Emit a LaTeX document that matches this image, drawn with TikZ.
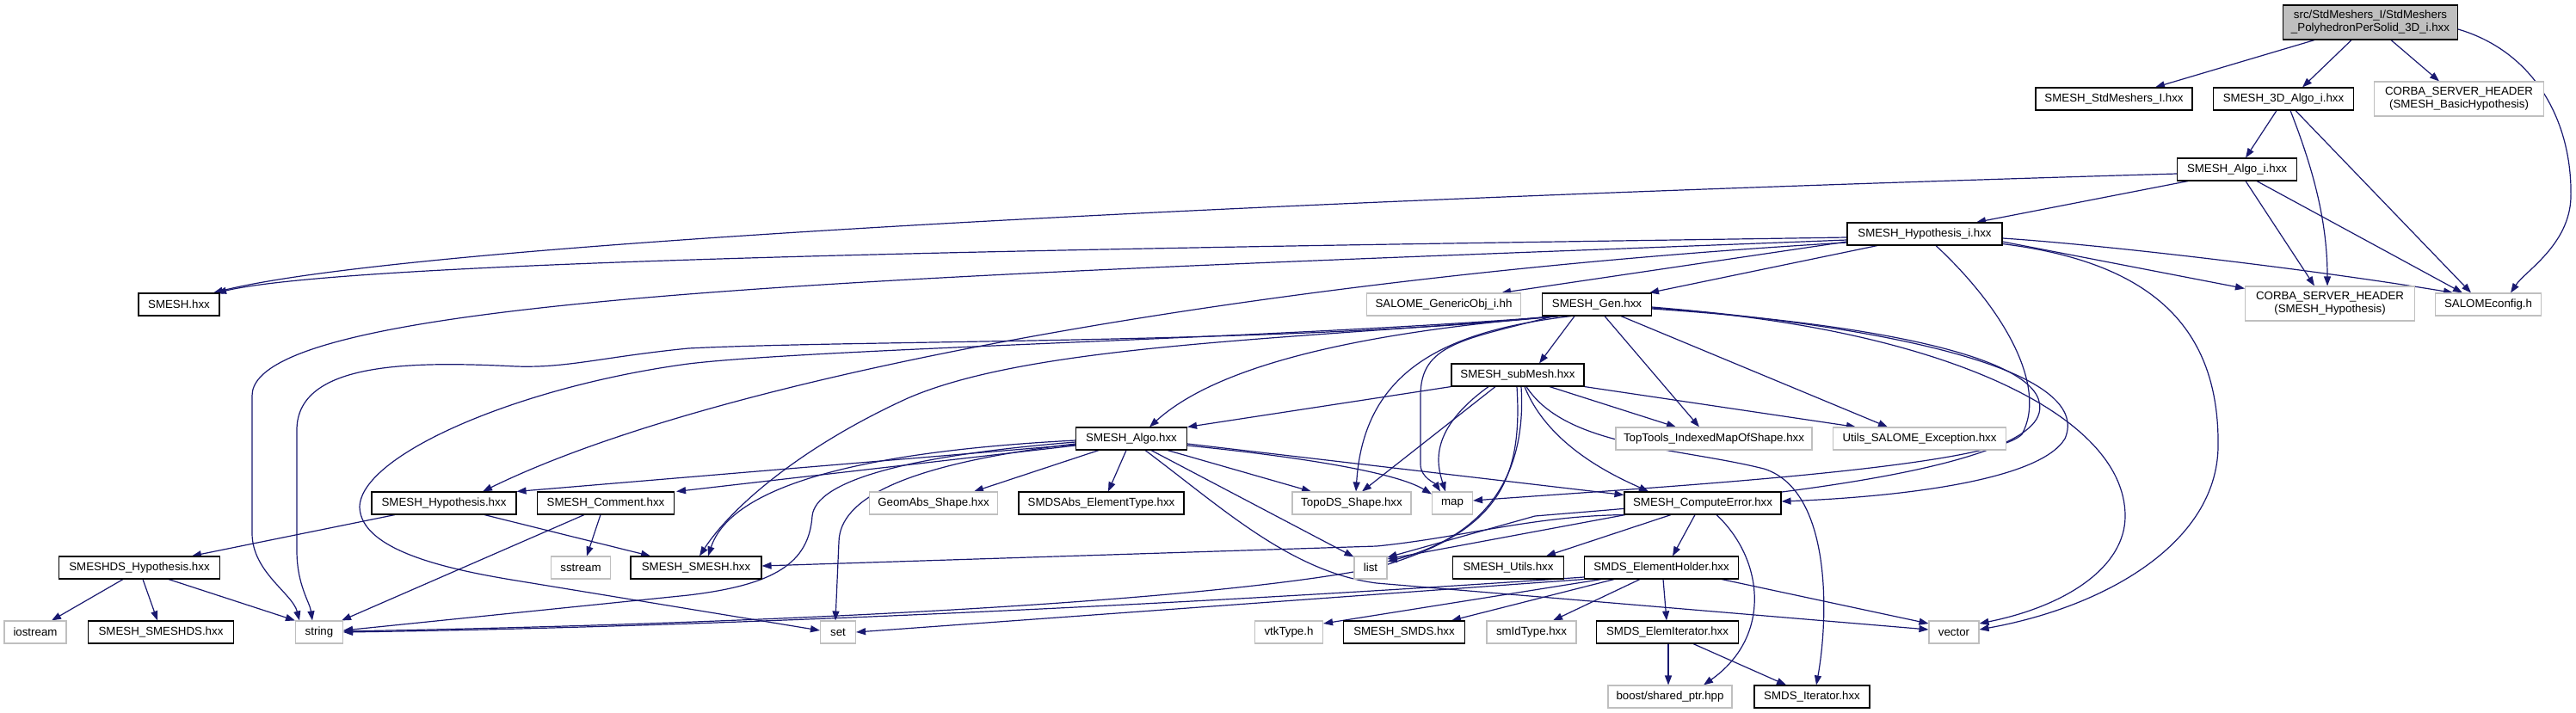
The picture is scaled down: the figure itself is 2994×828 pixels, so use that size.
\documentclass[tikz,border=0pt]{standalone}
\usepackage{fontspec}
\setmainfont{Liberation Sans}
\usetikzlibrary{arrows.meta}
\pgfdeclarelayer{bg}
\pgfsetlayers{bg,main}
\definecolor{edgec}{RGB}{25,25,112}
\definecolor{greyb}{RGB}{191,191,191}
\begin{document}
\begin{tikzpicture}[x=1pt,y=-1pt,
  every node/.style={font=\fontsize{13.3}{15}\selectfont},
  doc/.style={draw=black, line width=1.1pt, fill=white, minimum height=26pt, inner sep=0pt, align=center},
  und/.style={draw=greyb, line width=1.1pt, fill=white, minimum height=26pt, inner sep=0pt, align=center},
  e/.style={draw=edgec, line width=1.2pt, -{Triangle[length=11pt,width=8pt]}},
]
\useasboundingbox (0,0) rectangle (2994,828);
% nodes
\node[doc, minimum width=203pt, minimum height=40pt, fill=greyb] (M) at (2755,26) {src/StdMeshers\_I/StdMeshers\\\_PolyhedronPerSolid\_3D\_i.hxx};
\node[doc, minimum width=182pt] (SI) at (2457,115) {SMESH\_StdMeshers\_I.hxx};
\node[doc, minimum width=163pt] (A3) at (2654,115) {SMESH\_3D\_Algo\_i.hxx};
\node[und, minimum width=197pt, minimum height=40pt] (CB) at (2858,115) {CORBA\_SERVER\_HEADER\\(SMESH\_BasicHypothesis)};
\node[doc, minimum width=139pt] (AI) at (2600,197) {SMESH\_Algo\_i.hxx};
\node[doc, minimum width=180pt] (HI) at (2237,272) {SMESH\_Hypothesis\_i.hxx};
\node[doc, minimum width=94pt] (SM) at (208,354) {SMESH.hxx};
\node[und, minimum width=179pt] (GO) at (1678,354) {SALOME\_GenericObj\_i.hh};
\node[doc, minimum width=127pt] (G) at (1856,354) {SMESH\_Gen.hxx};
\node[und, minimum width=197pt, minimum height=40pt] (CH) at (2708,353) {CORBA\_SERVER\_HEADER\\(SMESH\_Hypothesis)};
\node[und, minimum width=123pt] (SC) at (2892,354) {SALOMEconfig.h};
\node[doc, minimum width=154pt] (SB) at (1764,436) {SMESH\_subMesh.hxx};
\node[und, minimum width=228pt] (TT) at (1992,510) {TopTools\_IndexedMapOfShape.hxx};
\node[und, minimum width=201pt] (US) at (2231,510) {Utils\_SALOME\_Exception.hxx};
\node[doc, minimum width=129pt] (AL) at (1315,510) {SMESH\_Algo.hxx};
\node[doc, minimum width=168pt] (HY) at (516,585) {SMESH\_Hypothesis.hxx};
\node[doc, minimum width=159pt] (CM) at (704,585) {SMESH\_Comment.hxx};
\node[und, minimum width=149pt] (GA) at (1085,585) {GeomAbs\_Shape.hxx};
\node[doc, minimum width=192pt] (ET) at (1280,585) {SMDSAbs\_ElementType.hxx};
\node[und, minimum width=138pt] (TD) at (1571,585) {TopoDS\_Shape.hxx};
\node[und, minimum width=47pt] (MP) at (1688,585) {map};
\node[doc, minimum width=182pt] (CE) at (1979,585) {SMESH\_ComputeError.hxx};
\node[doc, minimum width=187pt] (DH) at (162,660) {SMESHDS\_Hypothesis.hxx};
\node[und, minimum width=69pt] (SS) at (675,660) {sstream};
\node[doc, minimum width=152pt] (SX) at (809,660) {SMESH\_SMESH.hxx};
\node[und, minimum width=38pt] (LI) at (1593,660) {list};
\node[doc, minimum width=129pt] (UT) at (1753,660) {SMESH\_Utils.hxx};
\node[doc, minimum width=179pt] (EH) at (1931,660) {SMDS\_ElementHolder.hxx};
\node[und, minimum width=72pt] (IO) at (41,735) {iostream};
\node[doc, minimum width=169pt] (SD) at (187,735) {SMESH\_SMESHDS.hxx};
\node[und, minimum width=55pt] (ST) at (371,735) {string};
\node[und, minimum width=41pt] (SE) at (974,735) {set};
\node[und, minimum width=79pt] (VT) at (1498,735) {vtkType.h};
\node[doc, minimum width=141pt] (SMDS) at (1632,735) {SMESH\_SMDS.hxx};
\node[und, minimum width=104pt] (SI2) at (1780,735) {smIdType.hxx};
\node[doc, minimum width=165pt] (EI) at (1938,735) {SMDS\_ElemIterator.hxx};
\node[und, minimum width=58pt] (VE) at (2271,735) {vector};
\node[und, minimum width=144pt] (BS) at (1941,810) {boost/shared\_ptr.hpp};
\node[doc, minimum width=134pt] (IT) at (2106,810) {SMDS\_Iterator.hxx};
\begin{pgfonlayer}{bg}
% edges: main
\draw[e] ([xshift=-65]M.south) -- ([xshift=48]SI.north);
\draw[e] ([xshift=-22]M.south) -- ([xshift=22]A3.north);
\draw[e] ([xshift=24]M.south) -- ([xshift=-23]CB.north);
\draw[e] ([yshift=-8]M.east) .. controls (2945,60) and (2990,140) .. (2988,230) .. controls (2986,285) and (2935,315) .. ([xshift=26]SC.north);
% 3D algo
\draw[e] ([xshift=-8]A3.south) -- ([xshift=10]AI.north);
\draw[e] ([xshift=8]A3.south) .. controls (2690,200) and (2705,260) .. ([xshift=-3]CH.north);
\draw[e] ([xshift=14]A3.south) -- ([xshift=-20]SC.north);
% algo_i
\draw[e] ([yshift=-5]AI.west) .. controls (1500,232) and (480,282) .. ([xshift=40]SM.north);
\draw[e] ([xshift=-57]AI.south) -- ([xshift=60]HI.north);
\draw[e] ([xshift=10]AI.south) -- ([xshift=-18]CH.north);
\draw[e] ([xshift=23]AI.south) -- ([xshift=-30]SC.north);
% hypothesis_i
\draw[e] ([yshift=-4]HI.west) .. controls (1500,286) and (430,298) .. ([xshift=44]SM.north);
\draw[e] ([yshift=-7]HI.west) .. controls (1100,320) and (293,340) .. (293,460) -- (293,620) .. controls (293,665) and (340,690) .. ([xshift=-23]ST.north);
\draw[e] ([yshift=-10]HI.west) .. controls (1500,320) and (850,430) .. ([xshift=45]HY.north);
\draw[e] ([yshift=-9]HI.west) -- ([xshift=67]GO.north);
\draw[e] ([xshift=-55]HI.south) -- ([xshift=61]G.north);
\draw[e] ([yshift=-9]HI.east) -- ([yshift=-3]CH.north west);
\draw[e] ([yshift=-5]HI.east) .. controls (2450,285) and (2700,315) .. ([xshift=-41]SC.north);
\draw[e] ([xshift=13]HI.south) .. controls (2330,360) and (2380,450) .. (2350,505) .. controls (2310,545) and (1900,568) .. ([yshift=3]MP.east);
\draw[e] ([yshift=2]HI.south east) .. controls (2500,305) and (2580,380) .. (2578,520) .. controls (2576,630) and (2450,705) .. ([yshift=3]VE.east);
% gen
\draw[e] ([xshift=-26]G.south) -- ([xshift=25]SB.north);
\draw[e] ([xshift=9]G.south) -- ([xshift=-17]TT.north);
\draw[e] ([xshift=28]G.south) -- ([xshift=-37]US.north);
\draw[e] ([xshift=-46]G.south) .. controls (1600,385) and (1420,420) .. ([xshift=21]AL.north);
\draw[e] ([xshift=-45]G.south) .. controls (1500,400) and (1000,395) .. (800,405) .. controls (700,415) and (660,428) .. (600,426) .. controls (480,420) and (345,420) .. (345,500) -- (345,640) .. controls (345,680) and (360,700) .. ([xshift=-8]ST.north);
\draw[e] ([xshift=-45]G.south) .. controls (1500,393) and (950,405) .. (800,423) .. controls (600,450) and (418,530) .. (418,590) .. controls (420,640) and (520,662) .. (600,675) -- ([yshift=2]SE.west);
\draw[e] ([xshift=-44]G.south) .. controls (1500,395) and (1200,400) .. (1055,463) .. controls (930,520) and (850,590) .. ([xshift=4]SX.north);
\draw[e] ([xshift=-30]G.south) .. controls (1680,385) and (1585,430) .. ([xshift=5]TD.north);
\draw[e] ([xshift=-50]G.south) .. controls (1700,395) and (1651,400) .. (1651,460) -- (1651,540) .. controls (1651,555) and (1668,562) .. ([xshift=-14]MP.north);
\draw[e] ([yshift=-3]G.east) .. controls (2250,385) and (2430,440) .. (2400,510) .. controls (2370,560) and (2200,578) .. ([yshift=2]CE.east);
\draw[e] ([yshift=-4]G.east) .. controls (2250,380) and (2470,480) .. (2470,600) .. controls (2470,660) and (2400,705) .. ([yshift=10]VE.east);
\draw[e] ([yshift=-5]G.east) .. controls (2200,378) and (2385,420) .. (2370,480) .. controls (2350,560) and (1900,590) .. (1784,600) -- ([yshift=12]LI.east);
% submesh
\draw[e] (SB.south west) -- (AL.north east);
\draw[e] ([xshift=-26]SB.south) -- ([xshift=12]TD.north);
\draw[e] ([xshift=-34]SB.south) .. controls (1660,500) and (1670,540) .. ([xshift=-8]MP.north);
\draw[e] ([xshift=-1]SB.south) .. controls (1770,560) and (1740,620) .. (1600,660) .. controls (1400,700) and (900,725) .. ([yshift=1]ST.east);
\draw[e] ([xshift=4]SB.south) .. controls (1775,560) and (1720,625) .. ([yshift=7]LI.east);
\draw[e] ([xshift=8]SB.south) .. controls (1800,520) and (1880,555) .. ([xshift=-63]CE.north);
\draw[e] ([xshift=37]SB.south) -- ([xshift=-44]TT.north);
\draw[e] (SB.south east) -- ([xshift=-74]US.north);
\draw[e] ([xshift=10]SB.south) .. controls (1820,520) and (1950,520) .. (2050,545) .. controls (2130,570) and (2125,720) .. ([xshift=5]IT.north);
% algo
\draw[e] ([yshift=-7]AL.west) -- (HY.north east);
\draw[e] ([yshift=-8]AL.west) -- ([xshift=2]CM.north east);
\draw[e] ([xshift=-38]AL.south) -- ([xshift=47]GA.north);
\draw[e] ([xshift=-6]AL.south) -- ([xshift=8]ET.north);
\draw[e] ([xshift=42]AL.south) -- ([xshift=-47]TD.north);
\draw[e] ([yshift=-8]AL.east) .. controls (1500,530) and (1620,548) .. ([yshift=-3]MP.north west);
\draw[e] ([yshift=-6]AL.east) -- ([yshift=-4]CE.north west);
\draw[e] ([yshift=-2]AL.west) .. controls (1000,525) and (850,565) .. ([xshift=14]SX.north);
\draw[e] ([yshift=-4]AL.west) .. controls (1050,530) and (948,560) .. (944,600) .. controls (940,655) and (900,680) .. (800,692) -- ([yshift=2]ST.east);
\draw[e] ([yshift=-6]AL.west) .. controls (1050,540) and (976,580) .. (975,630) -- ([xshift=-3]SE.north);
\draw[e] ([xshift=16]AL.south) .. controls (1420,590) and (1500,665) .. (1600,678) -- ([yshift=3]VE.west);
\draw[e] ([xshift=23]AL.south) -- ([yshift=-1]LI.north west);
% hypothesis, comment
\draw[e] ([xshift=-57]HY.south) -- ([xshift=61]DH.north);
\draw[e] ([xshift=47]HY.south) -- ([xshift=-53]SX.north);
\draw[e] ([xshift=-25]CM.south) -- ([xshift=-2]ST.north east);
\draw[e] ([xshift=-6]CM.south) -- ([xshift=7]SS.north);
% compute error
\draw[e] ([xshift=-37]CE.south) -- ([xshift=44]UT.north);
\draw[e] ([xshift=-9]CE.south) -- ([xshift=13]EH.north);
\draw[e] ([xshift=16]CE.south) .. controls (2050,650) and (2060,740) .. ([xshift=39]BS.north);
\draw[e] ([xshift=-90]CE.south) -- ([yshift=10]LI.east);
\draw[e] (CE.south west) .. controls (1780,600) and (1700,625) .. (1600,635) -- ([yshift=2]SX.east);
% element holder
\draw[e] ([yshift=-11]EH.west) .. controls (1500,695) and (900,728) .. (ST.east);
\draw[e] (EH.south west) -- (SE.east);
\draw[e] ([xshift=-70]EH.south) -- ([yshift=10]VT.east);
\draw[e] ([xshift=-55]EH.south) -- ([xshift=55]SMDS.north);
\draw[e] ([xshift=-25]EH.south) -- ([xshift=25]SI2.north);
\draw[e] ([xshift=2]EH.south) -- ([xshift=-1]EI.north);
\draw[e] ([xshift=-20]EH.south east) -- ([yshift=10]VE.west);
% elem iterator
\draw[e] ([xshift=1]EI.south) -- ([xshift=-2]BS.north);
\draw[e] ([xshift=30]EI.south) -- ([xshift=-30]IT.north);
% smeshds hypothesis
\draw[e] ([xshift=-19]DH.south) -- ([xshift=19]IO.north);
\draw[e] ([xshift=4]DH.south) -- ([xshift=-4]SD.north);
\draw[e] ([xshift=34]DH.south) -- (ST.north west);
\end{pgfonlayer}
\end{tikzpicture}
\end{document}
